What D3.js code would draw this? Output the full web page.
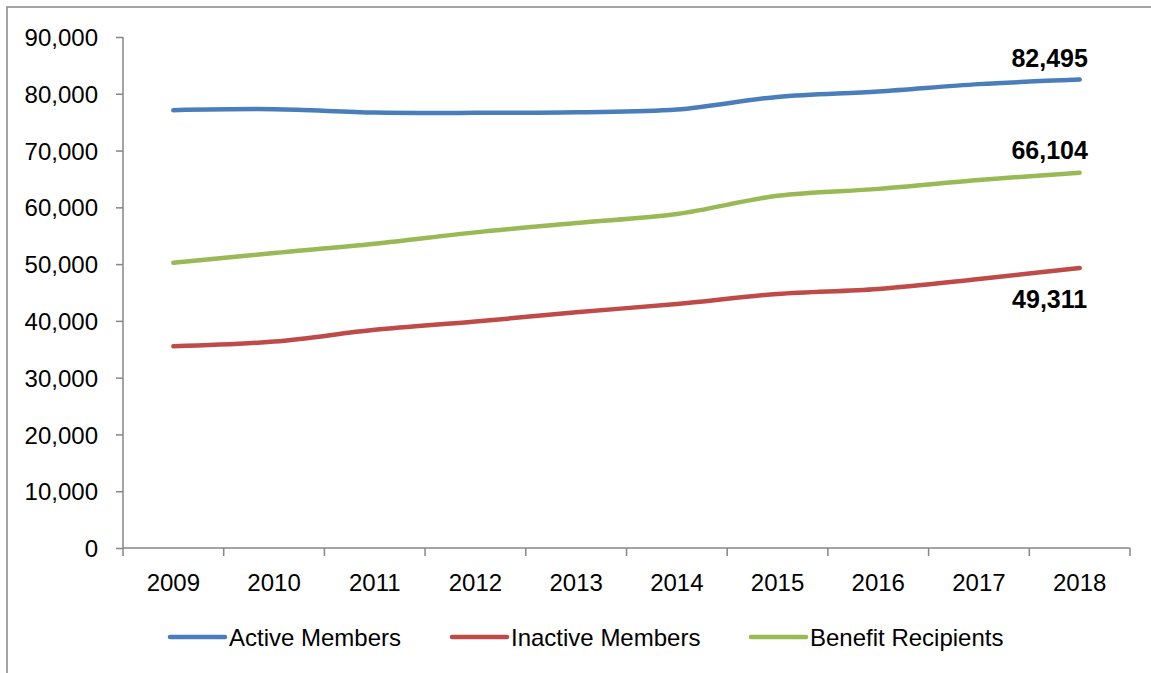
<!DOCTYPE html>
<html>
<head>
<meta charset="utf-8">
<script src="https://cdn.jsdelivr.net/npm/d3@7"></script>
<style>
  body { margin: 0; background: #fff; }
  svg { display: block; font-family: "Liberation Sans", Arial, sans-serif; }
</style>
</head>
<body>
<svg width="1151" height="673"></svg>
<script>
// the data
const years = ["2009", "2010", "2011", "2012", "2013", "2014", "2015", "2016", "2017", "2018"];
const activeMembers = [77120, 77290, 76700, 76640, 76760, 77220, 79450, 80400, 81700, 82495];
const inactiveMembers = [35530, 36360, 38420, 39880, 41510, 42990, 44750, 45630, 47390, 49311];
const benefitRecipients = [50250, 51960, 53600, 55590, 57240, 58820, 62040, 63250, 64800, 66104];
const yTicks = [0, 10000, 20000, 30000, 40000, 50000, 60000, 70000, 80000, 90000];

const series = [
  { name: "Active Members", values: activeMembers, color: "#4a7ebb", labelDy: -13 },
  { name: "Inactive Members", values: inactiveMembers, color: "#be4b48", labelDy: 40 },
  { name: "Benefit Recipients", values: benefitRecipients, color: "#98b954", labelDy: -14 },
];

const svg = d3.select("svg");
const axisColor = "#868686";

// chart frame (only the top and left edges fall inside the picture)
svg.append("rect")
  .attr("x", 7).attr("y", 7)
  .attr("width", 1200).attr("height", 700)
  .attr("fill", "none")
  .attr("stroke", axisColor)
  .attr("stroke-width", 1.5);

const plot = { left: 123, right: 1130, top: 37, bottom: 548 };

const x = d3.scaleBand().domain(years).range([plot.left, plot.right]);
const y = d3.scaleLinear().domain([0, 90000]).range([plot.bottom, plot.top]);

//////////// AXES ////////////

const yAxis = svg.append("g")
  .attr("transform", `translate(${plot.left},0)`)
  .call(d3.axisLeft(y).tickValues(yTicks).tickSize(7).tickPadding(18)
    .tickFormat(d3.format(",")));

const xAxis = svg.append("g")
  .attr("transform", `translate(0,${plot.bottom})`)
  .call(d3.axisBottom(x).tickSize(0).tickPadding(26));

// tick marks between categories, like the original
xAxis.selectAll(".sep")
  .data(d3.range(years.length + 1))
  .enter()
  .append("line")
  .attr("class", "sep")
  .attr("x1", (i) => plot.left + i * x.step())
  .attr("x2", (i) => plot.left + i * x.step())
  .attr("y1", 0)
  .attr("y2", 8);

svg.selectAll(".domain, .tick line, .sep")
  .attr("stroke", axisColor)
  .attr("stroke-width", 1.5);
xAxis.select(".domain").attr("d", `M${plot.left},0H${plot.right}`);
yAxis.select(".domain").attr("d", `M0,${plot.bottom}V${plot.top}`);

svg.selectAll(".tick text")
  .attr("fill", "#000")
  .style("font-size", "24px")
  .style("font-family", "'Liberation Sans', Arial, sans-serif");
yAxis.selectAll(".tick text").attr("dy", "0.36em");

//////////// LINES ////////////

const cx = (i) => x(years[i]) + x.bandwidth() / 2;

const line = d3.line()
  .x((d, i) => cx(i))
  .y((d) => y(d))
  .curve(d3.curveCatmullRom.alpha(0.5));

svg.append("g")
  .selectAll("path")
  .data(series)
  .enter()
  .append("path")
  .attr("d", (d) => line(d.values))
  .attr("fill", "none")
  .attr("stroke", (d) => d.color)
  .attr("stroke-width", 4.5)
  .attr("stroke-linecap", "round")
  .attr("stroke-linejoin", "round");

// value labels on the last point
const last = years.length - 1;
svg.append("g")
  .selectAll("text")
  .data(series)
  .enter()
  .append("text")
  .attr("x", cx(last) - 30)
  .attr("y", (d) => y(d.values[last]) + d.labelDy)
  .attr("text-anchor", "middle")
  .style("font-size", "25px")
  .style("font-weight", "bold")
  .text((d) => d3.format(",")(d.values[last]));

//////////// LEGEND ////////////

const legendX = [170, 452, 751];
const legend = svg.append("g")
  .selectAll("g")
  .data(series)
  .enter()
  .append("g")
  .attr("transform", (d, i) => `translate(${legendX[i]},637)`);

legend.append("line")
  .attr("x1", 0).attr("x2", 55)
  .attr("stroke", (d) => d.color)
  .attr("stroke-width", 4.5)
  .attr("stroke-linecap", "round");

legend.append("text")
  .attr("x", 59)
  .attr("dy", "0.36em")
  .style("font-size", "24px")
  .text((d) => d.name);
</script>
</body>
</html>
